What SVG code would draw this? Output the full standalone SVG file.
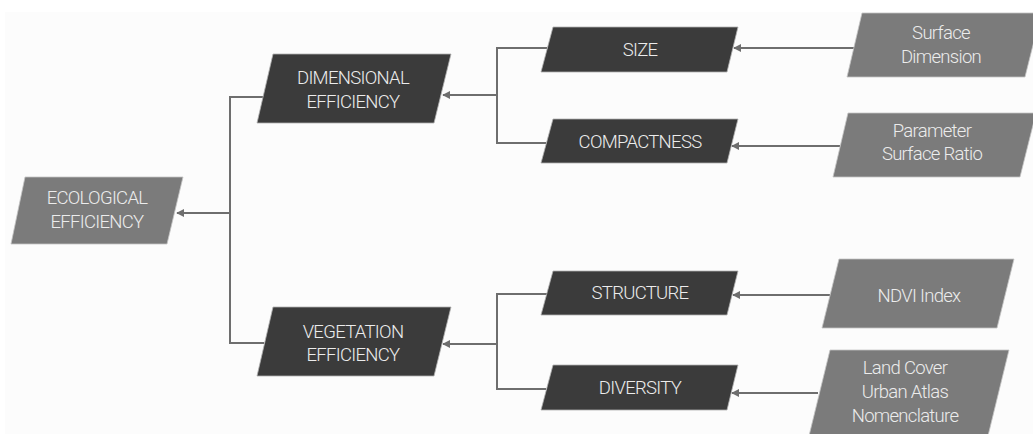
<svg xmlns="http://www.w3.org/2000/svg" width="1033" height="434" viewBox="0 0 1033 434">
  <style>
    .dark { fill: #3b3b3b; stroke: #b0b0b0; stroke-width: 0.8; }
    .mid { fill: #7b7b7b; stroke: #c4c4c4; stroke-width: 0.8; }
    .lbl { font-family: Roboto, "Liberation Sans", sans-serif; font-weight: 300; font-size: 18.5px; fill: #ececec; text-anchor: middle; letter-spacing: -0.7px; }
    .wire { fill: none; stroke: #6e6e6e; stroke-width: 2; }
  </style>
  <defs>
    <marker id="tip" viewBox="0 0 10 10" refX="9" refY="5" markerWidth="4" markerHeight="4" markerUnits="strokeWidth" orient="auto">
      <path d="M0,0 L10,5 L0,10 z" fill="#6e6e6e"/>
    </marker>
  </defs>

  <!-- canvas -->
  <rect x="0" y="0" width="1033" height="434" fill="#ffffff"/>
  <rect x="5" y="12" width="1028" height="422" fill="#fcfcfc"/>

  <!-- connectors -->
  <g id="connectors">
    <path class="wire" d="M263,97 H230 V343 H264"/>
    <path class="wire" d="M230,213 H177" marker-end="url(#tip)"/>
    <path class="wire" d="M547,48 H497 V143 H546"/>
    <path class="wire" d="M497,95 H443" marker-end="url(#tip)"/>
    <path class="wire" d="M548,294 H497 V389 H546"/>
    <path class="wire" d="M497,344 H443" marker-end="url(#tip)"/>
    <path class="wire" d="M855,48 H734" marker-end="url(#tip)"/>
    <path class="wire" d="M840,146 H732" marker-end="url(#tip)"/>
    <path class="wire" d="M830,295 H733" marker-end="url(#tip)"/>
    <path class="wire" d="M818,393 H732" marker-end="url(#tip)"/>
  </g>

  <!-- root -->
  <g id="ecological-efficiency">
    <polygon class="mid" points="25,177 183,177 167,244 11,244"/>
    <text class="lbl" x="97" y="204">ECOLOGICAL</text>
    <text class="lbl" x="97" y="228">EFFICIENCY</text>
  </g>

  <!-- second level -->
  <g id="dimensional-efficiency">
    <polygon class="dark" points="273,54 451,54 434,123 257,123"/>
    <text class="lbl" x="353" y="84">DIMENSIONAL</text>
    <text class="lbl" x="353" y="108">EFFICIENCY</text>
  </g>
  <g id="vegetation-efficiency">
    <polygon class="dark" points="273,307 451,307 434,376 257,376"/>
    <text class="lbl" x="353" y="338">VEGETATION</text>
    <text class="lbl" x="353" y="361">EFFICIENCY</text>
  </g>

  <!-- third level -->
  <g id="size">
    <polygon class="dark" points="553,27 738,27 727,72 541,72"/>
    <text class="lbl" x="640" y="56">SIZE</text>
  </g>
  <g id="compactness">
    <polygon class="dark" points="553,119 738,119 727,163 541,163"/>
    <text class="lbl" x="640" y="148">COMPACTNESS</text>
  </g>
  <g id="structure">
    <polygon class="dark" points="553,271 738,271 727,315 541,315"/>
    <text class="lbl" x="640" y="299">STRUCTURE</text>
  </g>
  <g id="diversity">
    <polygon class="dark" points="553,365 738,365 727,410 541,410"/>
    <text class="lbl" x="640" y="394">DIVERSITY</text>
  </g>

  <!-- indicators -->
  <g id="surface-dimension">
    <polygon class="mid" points="862,13 1041,13 1025,77 847,77"/>
    <text class="lbl" x="941" y="39">Surface</text>
    <text class="lbl" x="941" y="63">Dimension</text>
  </g>
  <g id="parameter-surface-ratio">
    <polygon class="mid" points="848,113 1036,113 1020,177 833,177"/>
    <text class="lbl" x="932" y="137">Parameter</text>
    <text class="lbl" x="932" y="160">Surface Ratio</text>
  </g>
  <g id="ndvi-index">
    <polygon class="mid" points="839,259 1014,259 997,328 822,328"/>
    <text class="lbl" x="919" y="302">NDVI Index</text>
  </g>
  <g id="land-cover">
    <polygon class="mid" points="830,350 1009,350 987,440 808,440"/>
    <text class="lbl" x="905" y="374">Land Cover</text>
    <text class="lbl" x="905" y="398">Urban Atlas</text>
    <text class="lbl" x="905" y="422">Nomenclature</text>
  </g>
</svg>
